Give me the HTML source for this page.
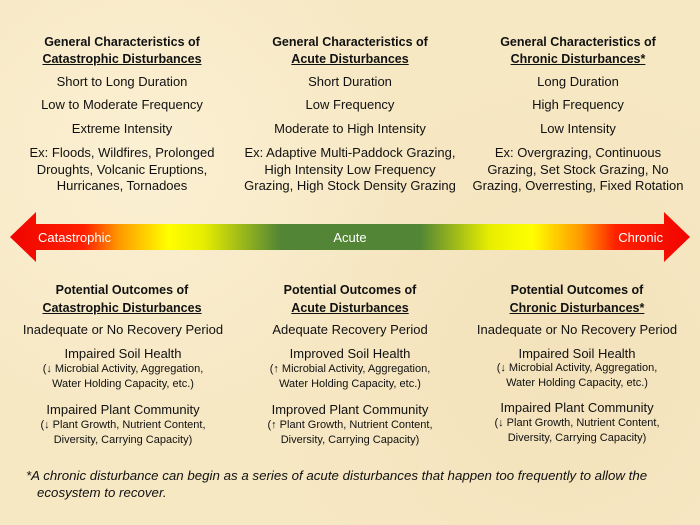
<!DOCTYPE html>
<html><head><meta charset="utf-8"><style>
html,body{margin:0;padding:0}
body{width:700px;height:525px;position:relative;overflow:hidden;
background:#f7e8c4;
background-image:radial-gradient(circle at 20% 30%,rgba(255,248,225,.5),transparent 40%),radial-gradient(circle at 80% 70%,rgba(235,215,170,.35),transparent 45%);
font-family:"Liberation Sans",sans-serif;color:#111}
.c{position:absolute;width:230px;text-align:center;white-space:nowrap;font-size:13px;line-height:16px}
.t{font-weight:bold;font-size:12.5px}
.u{text-decoration:underline}
.s{font-size:11px;line-height:16px}
.foot{position:absolute;left:26px;font-style:italic;font-size:13.3px;line-height:17px;white-space:nowrap}
</style></head><body>

<div class="c t" style="left:7px;top:34px">General Characteristics of</div>
<div class="c t u" style="left:7px;top:51px">Catastrophic Disturbances</div>
<div class="c" style="left:7px;top:74px">Short to Long Duration</div>
<div class="c" style="left:7px;top:97px">Low to Moderate Frequency</div>
<div class="c" style="left:7px;top:121px">Extreme Intensity</div>
<div class="c" style="left:7px;top:145px">Ex: Floods, Wildfires, Prolonged</div>
<div class="c" style="left:7px;top:162px">Droughts, Volcanic Eruptions,</div>
<div class="c" style="left:7px;top:178px">Hurricanes, Tornadoes</div>

<div class="c t" style="left:235px;top:34px">General Characteristics of</div>
<div class="c t u" style="left:235px;top:51px">Acute Disturbances</div>
<div class="c" style="left:235px;top:74px">Short Duration</div>
<div class="c" style="left:235px;top:97px">Low Frequency</div>
<div class="c" style="left:235px;top:121px">Moderate to High Intensity</div>
<div class="c" style="left:235px;top:145px">Ex: Adaptive Multi-Paddock Grazing,</div>
<div class="c" style="left:235px;top:162px">High Intensity Low Frequency</div>
<div class="c" style="left:235px;top:178px">Grazing, High Stock Density Grazing</div>

<div class="c t" style="left:463px;top:34px">General Characteristics of</div>
<div class="c t u" style="left:463px;top:51px">Chronic Disturbances*</div>
<div class="c" style="left:463px;top:74px">Long Duration</div>
<div class="c" style="left:463px;top:97px">High Frequency</div>
<div class="c" style="left:463px;top:121px">Low Intensity</div>
<div class="c" style="left:463px;top:145px">Ex: Overgrazing, Continuous</div>
<div class="c" style="left:463px;top:162px">Grazing, Set Stock Grazing, No</div>
<div class="c" style="left:463px;top:178px">Grazing, Overresting, Fixed Rotation</div>

<svg style="position:absolute;left:0;top:0" width="700" height="525">
<defs><linearGradient id="g" x1="0" x2="700" gradientUnits="userSpaceOnUse">
<stop offset="0" stop-color="#ee0000"/><stop offset=".12" stop-color="#ff2000"/>
<stop offset=".17" stop-color="#ff9900"/><stop offset=".24" stop-color="#ffff00"/>
<stop offset=".29" stop-color="#e8ee00"/><stop offset=".40" stop-color="#528535"/>
<stop offset=".60" stop-color="#528535"/><stop offset=".70" stop-color="#e8ee00"/>
<stop offset=".76" stop-color="#ffff00"/><stop offset=".83" stop-color="#ff9900"/>
<stop offset=".88" stop-color="#ff2000"/><stop offset="1" stop-color="#ee0000"/>
</linearGradient></defs>
<polygon points="10,237 36,212 36,224 664,224 664,212 690,237 664,262 664,250 36,250 36,262" fill="url(#g)"/>
<text x="38" y="242" font-family="Liberation Sans" font-size="13" fill="#fff">Catastrophic</text>
<text x="350" y="242" font-family="Liberation Sans" font-size="13" fill="#fff" text-anchor="middle">Acute</text>
<text x="663" y="242" font-family="Liberation Sans" font-size="13" fill="#fff" text-anchor="end">Chronic</text>
</svg>

<div class="c t" style="left:7px;top:282px">Potential Outcomes of</div>
<div class="c t u" style="left:7px;top:300px">Catastrophic Disturbances</div>
<div class="c" style="left:8px;top:322px">Inadequate or No Recovery Period</div>
<div class="c" style="left:8px;top:346px">Impaired Soil Health</div>
<div class="c s" style="left:8px;top:361px">(↓ Microbial Activity, Aggregation,</div>
<div class="c s" style="left:8px;top:376px">Water Holding Capacity, etc.)</div>
<div class="c" style="left:8px;top:402px">Impaired Plant Community</div>
<div class="c s" style="left:8px;top:417px">(↓ Plant Growth, Nutrient Content,</div>
<div class="c s" style="left:8px;top:432px">Diversity, Carrying Capacity)</div>

<div class="c t" style="left:235px;top:282px">Potential Outcomes of</div>
<div class="c t u" style="left:235px;top:300px">Acute Disturbances</div>
<div class="c" style="left:235px;top:322px">Adequate Recovery Period</div>
<div class="c" style="left:235px;top:346px">Improved Soil Health</div>
<div class="c s" style="left:235px;top:361px">(↑ Microbial Activity, Aggregation,</div>
<div class="c s" style="left:235px;top:376px">Water Holding Capacity, etc.)</div>
<div class="c" style="left:235px;top:402px">Improved Plant Community</div>
<div class="c s" style="left:235px;top:417px">(↑ Plant Growth, Nutrient Content,</div>
<div class="c s" style="left:235px;top:432px">Diversity, Carrying Capacity)</div>

<div class="c t" style="left:462px;top:282px">Potential Outcomes of</div>
<div class="c t u" style="left:462px;top:300px">Chronic Disturbances*</div>
<div class="c" style="left:462px;top:322px">Inadequate or No Recovery Period</div>
<div class="c" style="left:462px;top:346px">Impaired Soil Health</div>
<div class="c s" style="left:462px;top:360px">(↓ Microbial Activity, Aggregation,</div>
<div class="c s" style="left:462px;top:375px">Water Holding Capacity, etc.)</div>
<div class="c" style="left:462px;top:400px">Impaired Plant Community</div>
<div class="c s" style="left:462px;top:415px">(↓ Plant Growth, Nutrient Content,</div>
<div class="c s" style="left:462px;top:430px">Diversity, Carrying Capacity)</div>

<div class="foot" style="top:467px">*A chronic disturbance can begin as a series of acute disturbances that happen too frequently to allow the</div>
<div class="foot" style="top:484px;left:37px">ecosystem to recover.</div>
</body></html>
